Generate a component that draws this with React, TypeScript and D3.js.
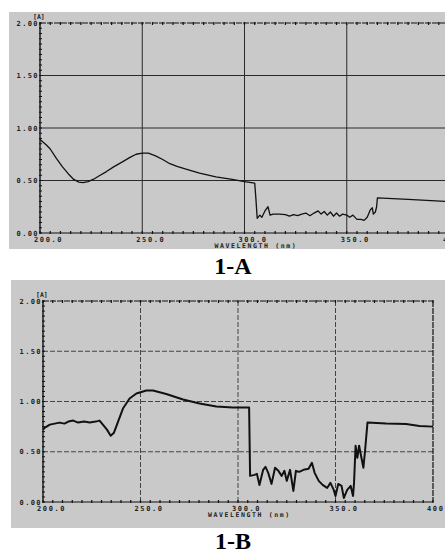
import React from "react";
import * as d3 from "d3";

// wavelength (nm) / absorbance pairs
const specA: [number, number][] = [
  [200, 0.89], [203, 0.84], [205, 0.8], [208, 0.71], [211, 0.63], [214, 0.56], [216.5, 0.51],
  [219, 0.485], [221, 0.48], [223.5, 0.49], [226, 0.51], [229, 0.545], [232.5, 0.585],
  [236, 0.63], [240.5, 0.68], [244, 0.72], [247, 0.75], [250, 0.76], [253, 0.76],
  [256.5, 0.735], [260, 0.7], [263.5, 0.66], [267, 0.635], [271, 0.61], [278, 0.57],
  [286, 0.535], [294, 0.51], [300, 0.49], [305, 0.475], [305.6, 0.32], [306.2, 0.14],
  [307.5, 0.17], [308.5, 0.15], [310, 0.21], [311.5, 0.25], [312.5, 0.17], [314, 0.18],
  [317, 0.18], [320, 0.175], [322, 0.16], [324, 0.175], [326, 0.165], [328, 0.18],
  [330, 0.19], [332, 0.165], [334, 0.19], [336, 0.21], [337.5, 0.18], [339, 0.205],
  [340.5, 0.17], [342, 0.2], [343.5, 0.16], [345, 0.19], [346.5, 0.16], [348, 0.18],
  [350, 0.17], [351.5, 0.15], [353, 0.17], [355, 0.13], [357, 0.13], [358.5, 0.12],
  [360, 0.15], [361.5, 0.22], [362.5, 0.24], [363, 0.18], [364, 0.2], [364.6, 0.25],
  [365, 0.335], [380, 0.32], [400, 0.3],
];

const specB: [number, number][] = [
  [200, 0.72], [201, 0.74], [203.5, 0.77], [206, 0.78], [208.5, 0.79], [211, 0.78],
  [213, 0.8], [215.5, 0.81], [218, 0.79], [221, 0.8], [224, 0.79], [227, 0.8], [229, 0.81],
  [230.7, 0.77], [232.8, 0.72], [234.7, 0.66], [236.4, 0.69], [238.5, 0.8], [241, 0.93],
  [244.4, 1.03], [247.9, 1.08], [253, 1.11], [256.4, 1.11], [263.2, 1.075], [271.8, 1.02],
  [280.3, 0.98], [288.9, 0.95], [297.4, 0.94], [305.7, 0.94], [306.2, 0.26], [308.5, 0.27],
  [309.7, 0.28], [311, 0.17], [312.9, 0.32], [314.1, 0.35], [315.5, 0.29], [317.2, 0.18],
  [319, 0.34], [320.7, 0.31], [322.4, 0.26], [323.8, 0.31], [325, 0.21], [326.7, 0.32],
  [328.4, 0.11], [329.7, 0.31], [331.4, 0.3], [333.6, 0.32], [336.2, 0.33], [337.9, 0.39],
  [339.3, 0.29], [341.4, 0.21], [343.4, 0.17], [345.7, 0.14], [347.4, 0.19], [349.1, 0.12],
  [350, 0.06], [351.4, 0.18], [353.1, 0.16], [354.3, 0.04], [356, 0.12], [357.8, 0.16],
  [359, 0.06], [359.5, 0.19], [360.3, 0.56], [361.2, 0.44], [362.1, 0.56], [363.3, 0.44],
  [364.3, 0.34], [365.2, 0.52], [366.4, 0.79], [375.9, 0.78], [386.2, 0.775],
  [393.1, 0.757], [400, 0.75],
];

const yTicks = [0, 0.5, 1, 1.5, 2];
const yTickLabels = ["0.00", "0.50", "1.00", "1.50", "2.00"];
const xTicks = [200, 250, 300, 350, 400];
const xTickLabels = ["200.0", "250.0", "300.0", "350.0", "400.0"];
const panelTitles = ["1-A", "1-B"];

const mono = "'DejaVu Sans Mono', monospace";
const ink = "#111";

type PanelProps = {
  data: [number, number][];
  bg: { x: number; y: number; w: number; h: number };
  xr: [number, number];
  yr: [number, number];
  dashedGrid: boolean;
  lineWidth: number;
  rightBorder: boolean;
};

const Panel = ({ data, bg, xr, yr, dashedGrid, lineWidth, rightBorder }: PanelProps) => {
  const x = d3.scaleLinear().domain([200, 400]).range(xr);
  const y = d3.scaleLinear().domain([0, 2]).range(yr);
  const line = d3.line<[number, number]>().x(d => x(d[0])).y(d => y(d[1]));
  const right = Math.min(x(400), 445);
  const gridStroke = dashedGrid ? "#444" : "#2a2a2a";
  const dash = dashedGrid ? "5,2" : undefined;
  const minorY = d3.range(0, 2.0001, 0.05);
  const minorX = d3.range(200, 400.001, 5);

  return (
    <g>
      <rect x={bg.x} y={bg.y} width={bg.w} height={bg.h} fill="#c9c9c9" />
      {/* grid */}
      {yTicks.slice(1, 4).map(t => (
        <line key={"gy" + t} x1={x(200)} x2={right} y1={y(t)} y2={y(t)}
          stroke={gridStroke} strokeWidth={1} strokeDasharray={dash} />
      ))}
      {xTicks.slice(1, 4).map(t => (
        <line key={"gx" + t} x1={x(t)} x2={x(t)} y1={y(2)} y2={y(0)}
          stroke={gridStroke} strokeWidth={1} strokeDasharray={dash} />
      ))}
      {/* frame */}
      <line x1={x(200)} x2={right} y1={y(2)} y2={y(2)} stroke={ink} strokeWidth={1} strokeDasharray="6,1" />
      <line x1={x(200)} x2={right} y1={y(0)} y2={y(0)} stroke={ink} strokeWidth={1.2} />
      <line x1={x(200)} x2={x(200)} y1={y(2)} y2={y(0)} stroke={ink} strokeWidth={1.4} />
      {rightBorder && (
        <line x1={x(400)} x2={x(400)} y1={y(2)} y2={y(0)} stroke={ink} strokeWidth={1.2} strokeDasharray="6,1" />
      )}
      {minorY.map(t => (
        <line key={"my" + t} x1={x(200) - 1} x2={x(200) + 2} y1={y(t)} y2={y(t)} stroke={ink} strokeWidth={1} />
      ))}
      {minorX.filter(t => x(t) <= 445).map(t => (
        <g key={"mx" + t}>
          <line x1={x(t)} x2={x(t)} y1={y(0) - 2} y2={y(0) + 1} stroke={ink} strokeWidth={1.2} />
          <line x1={x(t)} x2={x(t)} y1={y(2) - 1} y2={y(2) + 2} stroke={ink} strokeWidth={1.2} />
        </g>
      ))}
      {/* labels */}
      {yTicks.map((t, i) => (
        <text key={"ly" + t} x={x(200) - 1} y={y(t) + 2.5} textAnchor="end"
          fontFamily={mono} fontWeight="bold" fontSize={7} letterSpacing={1.4} fill="#222">
          {yTickLabels[i]}
        </text>
      ))}
      {xTicks.map((t, i) => (
        <text key={"lx" + t} x={x(t) - 6} y={y(0) + 8.5}
          fontFamily={mono} fontWeight="bold" fontSize={7} letterSpacing={1.6} fill="#222">
          {xTickLabels[i]}
        </text>
      ))}
      <text x={x(200) - 7} y={y(2) - 4} fontFamily={mono} fontWeight="bold" fontSize={6.5} fill="#222">[A]</text>
      <text x={x(300) - 30} y={y(0) + 15} fontFamily={mono} fontWeight="bold" fontSize={6.5}
        letterSpacing={1.6} fill="#222">WAVELENGTH (nm)</text>
      {/* spectrum */}
      <path d={line(data) ?? ""} fill="none" stroke={ink} strokeWidth={lineWidth} strokeLinejoin="round" />
    </g>
  );
};

export default function App() {
  return (
    <svg width={445} height={554} style={{ position: "absolute", left: 0, top: 0 }}>
      <rect width={445} height={554} fill="#fff" />
      <Panel data={specA} bg={{ x: 9, y: 12, w: 436, h: 237 }} xr={[40, 449]} yr={[233, 23]}
        dashedGrid={false} lineWidth={1.3} rightBorder={false} />
      <Panel data={specB} bg={{ x: 11, y: 280, w: 434, h: 248 }} xr={[43, 433]} yr={[502, 301]}
        dashedGrid={true} lineWidth={2} rightBorder={true} />
      {panelTitles.map((t, i) => (
        <text key={t} x={233} y={i === 0 ? 274 : 549} textAnchor="middle"
          fontFamily="'Liberation Serif', serif" fontWeight="bold" fontSize={24} fill="#000">
          {t}
        </text>
      ))}
    </svg>
  );
}
